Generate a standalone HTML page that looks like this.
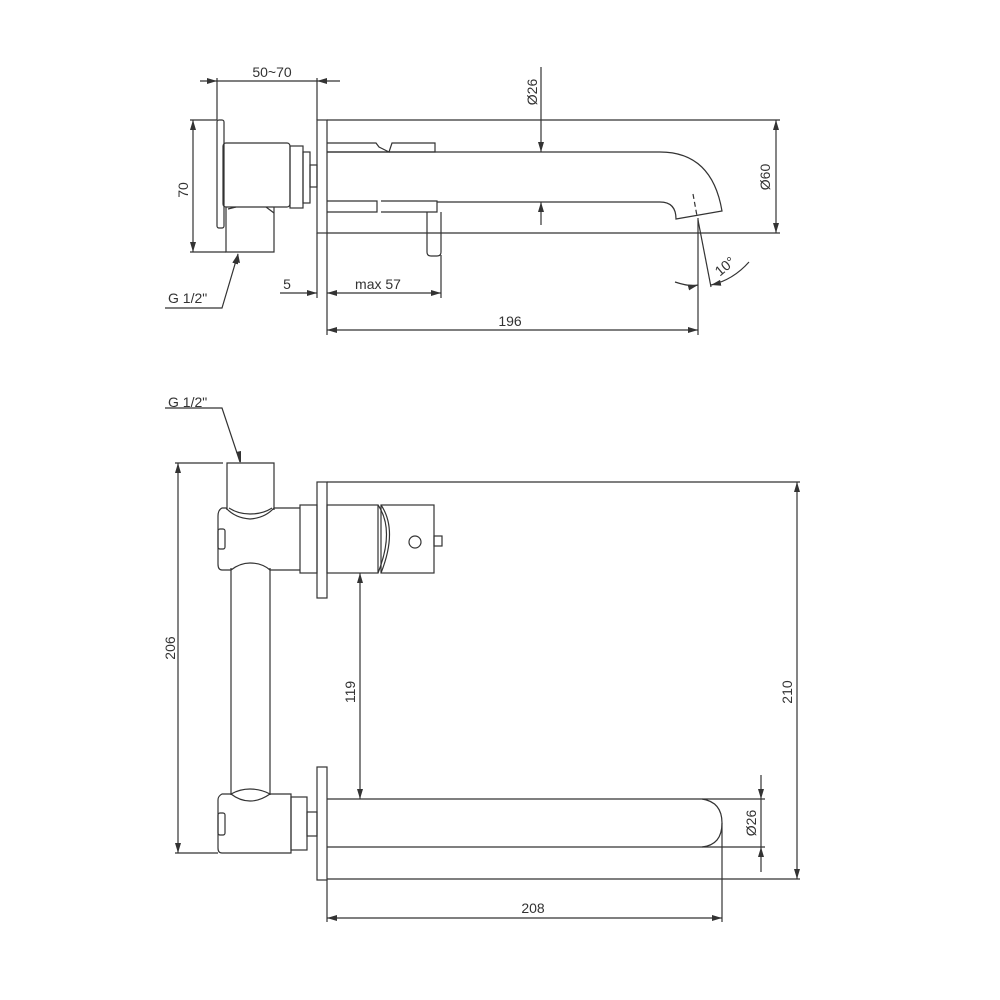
<!DOCTYPE html>
<html><head><meta charset="utf-8"><style>
html,body{margin:0;padding:0;background:#fff}
svg{display:block}
text{font-family:"Liberation Sans",sans-serif;font-size:14px;fill:#333}
</style></head><body>
<svg width="1000" height="1000" viewBox="0 0 1000 1000" xmlns="http://www.w3.org/2000/svg">
<defs>
<marker id="a" viewBox="0 0 10 6" refX="10" refY="3" markerWidth="10" markerHeight="6" markerUnits="userSpaceOnUse" orient="auto-start-reverse"><path d="M0,0 L10,3 L0,6 z" fill="#333"/></marker>
</defs>
<g fill="none" stroke="#333" stroke-width="1.2">
<!-- ===== TOP VIEW ===== -->
<!-- dim 50~70 -->
<line x1="217" y1="78" x2="217" y2="120"/>
<line x1="317" y1="78" x2="317" y2="120"/>
<line x1="200" y1="81" x2="217" y2="81" marker-end="url(#a)"/>
<line x1="217" y1="81" x2="317" y2="81"/>
<line x1="340" y1="81" x2="317" y2="81" marker-end="url(#a)"/>
<!-- dim 70 -->
<line x1="190" y1="120" x2="217" y2="120"/>
<line x1="190" y1="252" x2="226" y2="252"/>
<line x1="193" y1="120" x2="193" y2="252" marker-start="url(#a)" marker-end="url(#a)"/>
<!-- wall plate -->
<rect x="217" y="120" width="7" height="108" rx="2"/>
<!-- body -->
<rect x="223" y="143" width="67" height="64" rx="3"/>
<rect x="290" y="146" width="13" height="62"/>
<rect x="303" y="152" width="7" height="51"/>
<rect x="310" y="165" width="7" height="22"/>
<!-- inlet -->
<path d="M226,207 L226,252 L274,252 L274,207"/>
<path d="M228,209 L236,207 M266,207 L274,213"/>
<!-- G1/2 leader -->
<path d="M165,308 L222,308 L238,254" />
<line x1="225" y1="298" x2="238" y2="254" marker-end="url(#a)" stroke="none"/>
<path d="M235,262 L238,253 L240,263 z" fill="#333" stroke="none"/>
<!-- flange -->
<rect x="317" y="120" width="10" height="113"/>
<!-- handle -->
<path d="M327,143 L376,143 L379,147 L389,152 L392,143 L435,143 L435,152 L327,152"/>
<path d="M327,201 L377,201 L377,212 L327,212 M381,201 L437,201 L437,212 L381,212"/>
<path d="M427,212 L427,252 Q427,256 431,256 L437,256 Q441,256 441,252 L441,212"/>
<!-- spout -->
<path d="M327,152 L660,152 Q712,152 722,211 L676,219 Q676,202 660,202 L437,202"/>
<line x1="693" y1="194" x2="697" y2="216" stroke-dasharray="5,3"/>
<!-- long outline lines -->
<line x1="327" y1="120" x2="780" y2="120"/>
<line x1="327" y1="233" x2="780" y2="233"/>
<!-- dim Ø60 -->
<line x1="776" y1="120" x2="776" y2="233" marker-start="url(#a)" marker-end="url(#a)"/>
<!-- dim Ø26 -->
<line x1="541" y1="67" x2="541" y2="152" marker-end="url(#a)"/>
<line x1="541" y1="225" x2="541" y2="202" marker-end="url(#a)"/>
<!-- angle -->
<line x1="698" y1="218" x2="698" y2="335"/>
<line x1="698" y1="220" x2="711" y2="287"/>
<path d="M675,282 Q690,287 698,285" marker-end="url(#a)"/>
<path d="M749,262 Q733,280 711,285" marker-end="url(#a)"/>
<!-- dim 5 / max 57 -->
<line x1="317" y1="233" x2="317" y2="298"/>
<line x1="327" y1="233" x2="327" y2="335"/>
<line x1="441" y1="255" x2="441" y2="298"/>
<line x1="280" y1="293" x2="317" y2="293" marker-end="url(#a)"/>
<line x1="441" y1="293" x2="327" y2="293" marker-start="url(#a)" marker-end="url(#a)"/>
<!-- 196 -->
<line x1="327" y1="330" x2="698" y2="330" marker-start="url(#a)" marker-end="url(#a)"/>

<!-- ===== BOTTOM VIEW ===== -->
<!-- G1/2 leader -->
<path d="M165,408 L222,408 L240,462"/>
<path d="M236,452 L241,463 L241,451 z" fill="#333" stroke="none"/>
<!-- 206 dim -->
<line x1="175" y1="463" x2="223" y2="463"/>
<line x1="175" y1="853" x2="218" y2="853"/>
<line x1="178" y1="463" x2="178" y2="853" marker-start="url(#a)" marker-end="url(#a)"/>
<!-- top inlet -->
<path d="M227,510 L227,463 L274,463 L274,510"/>
<!-- top body -->
<path d="M300,508 L274,508 Q265,518 250,519 Q235,518 226,508 L222,508 Q218,510 218,516 L218,564 Q218,570 222,570 L231,570 Q240,563 250,563 Q262,563 270,570 L300,570"/>
<path d="M229,508 Q238,514 250,514 Q263,514 272,508"/>
<rect x="218" y="529" width="7" height="20" rx="2"/>
<rect x="300" y="505" width="17" height="68"/>
<!-- top flange -->
<rect x="317" y="482" width="10" height="116"/>
<!-- handle -->
<rect x="327" y="505" width="51" height="68"/>
<path d="M378,505 Q395,530 378,573"/>
<path d="M381,505 Q398,530 381,573"/>
<rect x="381" y="505" width="53" height="68"/>
<circle cx="415" cy="542" r="6"/>
<rect x="434" y="536" width="8" height="10"/>
<!-- pipe -->
<line x1="231" y1="568" x2="231" y2="795"/>
<line x1="270" y1="568" x2="270" y2="795"/>
<!-- bottom body -->
<path d="M291,794 L270,794 Q260,801 250,801 Q240,801 231,794 L222,794 Q218,796 218,800 L218,848 Q218,853 222,853 L291,853 Z"/>
<path d="M231,794 Q240,789 250,789 Q261,789 270,794"/>
<rect x="218" y="813" width="7" height="22" rx="2"/>
<rect x="291" y="797" width="16" height="53"/>
<rect x="307" y="812" width="10" height="24"/>
<!-- bottom flange -->
<rect x="317" y="767" width="10" height="113"/>
<!-- spout -->
<path d="M327,799 L702,799 Q722,802 722,823 Q722,845 702,847 L327,847"/>
<!-- long lines -->
<line x1="327" y1="482" x2="800" y2="482"/>
<line x1="327" y1="879" x2="800" y2="879"/>
<!-- 210 -->
<line x1="797" y1="482" x2="797" y2="879" marker-start="url(#a)" marker-end="url(#a)"/>
<!-- Ø26 -->
<line x1="702" y1="799" x2="765" y2="799"/>
<line x1="702" y1="847" x2="765" y2="847"/>
<line x1="761" y1="775" x2="761" y2="799" marker-end="url(#a)"/>
<line x1="761" y1="872" x2="761" y2="847" marker-end="url(#a)"/>
<line x1="761" y1="799" x2="761" y2="847"/>
<!-- 119 -->
<line x1="360" y1="573" x2="360" y2="799" marker-start="url(#a)" marker-end="url(#a)"/>
<!-- 208 -->
<line x1="327" y1="880" x2="327" y2="922"/>
<line x1="722" y1="823" x2="722" y2="922"/>
<line x1="327" y1="918" x2="722" y2="918" marker-start="url(#a)" marker-end="url(#a)"/>
</g>
<g>
<text x="272" y="77" text-anchor="middle">50~70</text>
<text x="188" y="190" text-anchor="middle" transform="rotate(-90 188 190)">70</text>
<text x="168" y="303">G 1/2"</text>
<text x="537" y="92" text-anchor="middle" transform="rotate(-90 537 92)">Ø26</text>
<text x="770" y="177" text-anchor="middle" transform="rotate(-90 770 177)">Ø60</text>
<text x="728" y="270" text-anchor="middle" transform="rotate(-40 728 270)">10°</text>
<text x="287" y="289" text-anchor="middle">5</text>
<text x="378" y="289" text-anchor="middle">max 57</text>
<text x="510" y="326" text-anchor="middle">196</text>
<text x="168" y="407">G 1/2"</text>
<text x="175" y="648" text-anchor="middle" transform="rotate(-90 175 648)">206</text>
<text x="355" y="692" text-anchor="middle" transform="rotate(-90 355 692)">119</text>
<text x="792" y="692" text-anchor="middle" transform="rotate(-90 792 692)">210</text>
<text x="756" y="823" text-anchor="middle" transform="rotate(-90 756 823)">Ø26</text>
<text x="533" y="913" text-anchor="middle">208</text>
</g>
</svg>
</body></html>
